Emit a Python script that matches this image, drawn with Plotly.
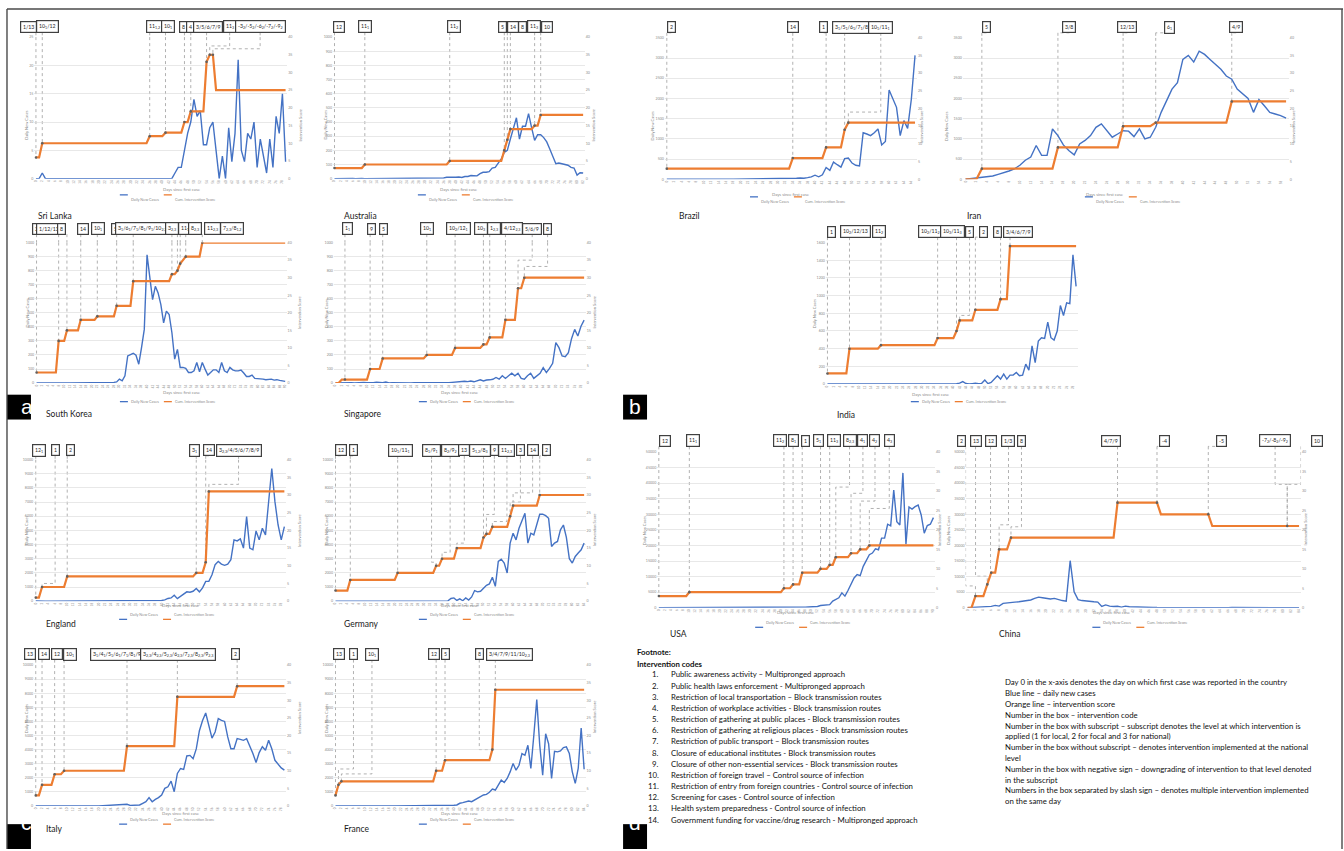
import plotly.graph_objects as go

W, H = 1344, 851
BLUE = '#4472C4'
ORANGE = '#ED7D31'
TXT = '#8c8c8c'
FONT = 'Lato'

# ------------------------------------------------------------------ data
sri_lanka_new = [0, 0, 1] + [0] * 41 + [1, 2, 2, 5, 8, 10, 14, 11, 12, 6, 6, 9, 10, 5, 0, 4, 0, 9, 3, 8,
                                        21, 5, 3, 8, 7, 10, 2, 7, 4, 1, 7, 2, 11, 8, 15, 3]
sri_lanka_score = [6] * 2 + [10] * 34 + [12] * 5 + [13] * 6 + [16] * 2 + [19] * 5 + [33] + [35] * 2 + [25] * 23

australia_new = [0, 1, 0, 2, 1, 0, 1, 0, 2, 1, 0, 0, 1, 0, 0, 0, 0, 0, 0, 0, 0, 0, 0, 0, 0, 0, 0, 0, 0, 0,
                 0, 2, 3, 5, 2, 4,
                 5, 10, 10, 5, 10, 12, 8, 15, 15, 22, 20, 20, 35, 45, 45, 50, 75, 80, 110, 140, 185, 200, 280,
                 360, 430, 280, 370, 370, 460, 360, 270, 310, 310, 290, 260, 210, 150, 105, 110, 105, 95, 95,
                 80, 75, 25, 42, 40]
australia_score = [3] * 10 + [4] * 28 + [5] * 18 + [8, 11] + [14] * 8 + [15] * 2 + [18] * 15

south_korea_new = [1, 0, 0, 0, 1, 1, 0, 1, 2, 3, 0, 1, 0, 0, 1, 0, 0, 0, 0, 0, 1, 0, 1, 2, 0, 1, 2, 2, 5, 8,
                   28, 16, 52, 193, 205, 212, 198, 134, 252, 382, 913, 760, 594, 689, 642, 559, 429, 512, 488,
                   358, 170, 240, 111, 111, 104, 75, 75, 87, 146, 80, 146, 99, 57, 75, 94, 94, 75, 146, 87, 75,
                   111, 94, 87, 87, 92, 71, 47, 47, 57, 33, 33, 28, 28, 24, 28, 28, 21, 24, 19, 16, 12]
south_korea_score = [3] * 8 + [12] * 3 + [15] * 5 + [18] * 6 + [19] * 7 + [22] * 6 + [29] * 14 + [31] * 2 + \
                    [32, 34, 35] + [36] * 6 + [40] * 31

singapore_new = [1, 2, 0, 1, 0, 3, 1, 3, 2, 4, 2, 0, 3, 6, 3, 2, 7, 1, 2, 1, 3, 2, 1, 2, 1, 3, 2, 2, 1, 3,
                 2, 3, 2, 1, 2, 3, 2, 5, 8, 10, 12, 13, 10, 14, 9, 17, 23, 15, 22, 23, 27,
                 40, 28, 52, 33, 52, 70, 52, 70, 33, 28, 52, 70, 33, 52, 70, 110, 75, 104, 141, 288, 252, 193,
                 188, 217, 316, 382, 335, 405, 448]
singapore_score = [0] * 2 + [1] * 9 + [4] * 4 + [7] * 14 + [8] * 9 + [10] * 9 + [11] * 2 + [13] * 5 + \
                  [18] * 4 + [27] * 2 + [30] * 20

brazil_new = [1, 0, 0, 0, 1, 0, 0, 0, 0, 1, 0, 2, 0, 0, 0, 0, 1, 2, 2, 3, 0, 5, 2, 3, 5, 3, 2, 3, 8, 5, 6, 10,
              5, 10, 20, 25, 30, 25, 40, 60, 100, 60, 110,
              290, 220, 425, 360, 300, 510, 525, 400, 345, 330, 1150, 1120, 1080, 1150, 1245, 850, 935, 2210,
              1980, 1780, 1080, 1450, 1260, 1980, 3065]
brazil_score = [3] * 34 + [6] * 9 + [9] * 5 + [14] + [16] * 19

iran_new = [0, 15, 30, 40, 50, 80, 120, 155, 205, 260, 345, 470, 550, 835, 590, 590, 1245, 1080, 850, 710,
            605, 875, 960, 1080, 1285, 1370, 1200, 1040, 1120, 1200, 1190, 1055, 1245, 1000, 1040, 1285, 1655,
            1940, 2230, 2390, 2965, 3065, 2900, 3170, 3090, 2965, 2845, 2720, 2555, 2475, 2230, 2105, 2000,
            1655, 1970, 1820, 1655, 1615, 1575, 1515]
iran_score = [0] * 3 + [3] * 14 + [9] * 12 + [15] * 6 + [16] * 14 + [22] * 11

india_new = [1, 0, 1, 1] + [0] * 36 + [2, 5, 10, 28, 6, 0, 5, 10, 5, 8, 45, 5] + \
            [19, 56, 94, 56, 112, 56, 101, 101, 131, 94, 101, 225, 157, 431, 243, 487, 524, 517, 700, 524,
             498, 600, 888, 775, 918, 910, 1461, 1105]
india_score = [3] * 7 + [10] * 10 + [11] * 18 + [13] * 6 + [15] + [18] * 5 + [21] * 8 + [24] * 3 + [39] * 22

england_new = [20, 0, 0, 0, 0, 0, 0, 0, 0, 10, 0, 0, 0, 0, 0, 0, 0, 0, 0, 0, 0, 0, 0, 0, 0, 10, 0, 0, 0, 0,
               10, 0, 0, 30, 0, 20, 40, 30, 40,
               50, 50, 90, 190, 230, 420, 180, 330, 470, 660, 630, 700, 890, 660, 940, 1400, 1400, 1870, 2580,
               2810, 2620, 2530, 2620, 2930, 4330, 4260, 4400, 3750, 5970, 3750, 3630, 4960, 4330, 5150, 4680,
               7210, 9370, 7030, 5380, 4330, 5270]
england_score = [1] * 2 + [4] * 8 + [7] * 41 + [8] * 3 + [11] + [31] * 25

germany_new = [1, 3, 0, 0, 1, 0, 1, 0, 2, 0] + [0] * 24 + [10, 20, 10, 20] + \
              [20, 190, 230, 50, 160, 30, 230, 80, 300, 750, 660, 700, 940, 1120, 1220, 1690, 1050, 2810, 2970,
               2690, 1990, 4100, 4800, 4330, 5150, 5740, 6210, 4100, 4800, 4680, 5500, 6140, 6140, 6040, 5850,
               3860, 4100, 4220, 5040, 5380, 4500, 3000, 2690, 3160, 3400, 3630, 4100]
germany_score = [3] * 5 + [6] * 16 + [8] * 13 + [10] * 2 + [12] * 5 + [15] * 9 + [18] + [19] * 2 + [21] * 6 + \
                [24] + [27] * 9 + [30] * 16

usa_new = [1, 0, 0, 0, 1, 0, 1, 0, 0, 1] + [0] * 30 + [2, 5, 10, 20] + \
          [20, 50, 100, 150, 200, 250, 300, 530, 400, 700, 800] + \
          [1060, 1000, 2130, 2660, 3190, 4790, 3720, 5530, 7450, 9570, 10640, 10320, 13300, 15430, 17020, 17550,
           18940, 18620, 22340, 22340, 26810, 26280, 37770, 27660, 26600, 43300, 20430, 32340, 31700, 32450,
           32980, 29790, 23940, 26390, 26810, 28940]
usa_score = [3] * 10 + [4] * 31 + [5] * 3 + [6] * 3 + [9] * 6 + [10] * 3 + [11] * 2 + [13] * 5 + [14] * 3 + \
            [15] * 3 + [16] * 22

china_new = [0, 100, 0, 300, 200, 320, 450, 750, 530, 1380, 1600, 1600, 1800, 1900, 2100, 2300, 2500, 3000,
             3400, 3200, 3000, 2800, 3000, 2600, 2300, 2100, 15100, 5100, 2600, 2300, 2100, 2000, 1900, 1800,
             400, 900, 500, 400, 450, 200, 500, 300, 300, 200, 150, 100, 300, 100, 50,
             40, 30, 20, 20, 30, 40, 20, 20, 30, 30, 40, 50, 40, 30, 40, 50, 40, 30, 50, 60, 50, 40, 30, 50, 40,
             60, 100, 80, 50, 40, 30, 100, 80, 60, 40, 30]
china_score = [0] * 2 + [3] * 3 + [6] + [9] * 2 + [15] * 3 + [18] * 27 + [27] * 11 + [24] * 13 + [21] * 23

italy_new = [3] + [0] * 20 + [15, 40, 60, 50, 60, 70, 90, 100, 120] + [40, 50, 60] + \
            [70, 190, 300, 590, 300, 470, 590, 780, 1250, 1360, 1765, 1010, 2310, 2660, 2590, 3550, 3590, 3360,
             4050, 5340, 6070, 6600, 5700, 4820, 5250, 6200, 6070, 6000, 4900, 4060, 4060, 4780, 4730, 4660, 4780,
             4310, 3720, 3080, 3790, 4200, 3950, 4660, 4060, 3240, 3000, 2700, 2540]
italy_score = [3] * 2 + [6] * 4 + [9] * 3 + [10] * 20 + [17] * 16 + [31] * 19 + [34] * 16

france_new = [3, 0, 0, 0, 1, 0, 0, 0, 5, 0, 0, 0, 0, 0, 0, 0, 1, 0, 0, 0, 0, 0, 0, 0, 0, 0, 0, 0, 0, 0,
              0, 2, 4, 20, 10, 20, 30, 40, 20, 40,
              50, 70, 190, 235, 300, 350, 300, 420, 540, 660, 780, 820, 970, 1200, 1130, 1480, 1840, 1670, 1950,
              2420, 3010, 2540, 2890, 3720, 3600, 4310, 2660, 5000, 7550, 4310, 2190, 5130, 4420, 1950, 3880,
              3840, 3910, 4140, 4190, 3720, 2420, 1600, 2660, 5530, 2610]
france_score = [3, 6] + [7] * 32 + [10] * 3 + [13] * 16 + [16] + [33] * 31

# intervention boxes: (label, marker day, elbow height in score units or None)
sri_lanka_codes = [('1/13', 0, None), ('10<sub>1</sub>/12', 2, None), ('11<sub>1,2</sub>', 36, None),
                   ('10<sub>1</sub>', 41, None), ('8', 47, None), ('4', 49, None), ('3/5/6/7/9', 54, None),
                   ('11<sub>3</sub>', 55, 37.5),
                   ('-3<sub>2</sub>/-5<sub>2</sub>/-6<sub>2</sub>/-7<sub>2</sub>/-9<sub>2</sub>', 56, 36.7)]
australia_codes = [('12', 0, None), ('11<sub>1</sub>', 10, None), ('11<sub>2</sub>', 38, None), ('5', 56, None),
                   ('14', 57, None), ('8', 58, None), ('11<sub>3</sub>', 66, None), ('10', 68, None)]
south_korea_codes = [('2', 0, None), ('1/12/13', 8, None), ('8', 11, None), ('14', 16, None),
                     ('10<sub>1</sub>', 22, None), ('5', 29, None),
                     ('3<sub>1</sub>/6<sub>1</sub>/7<sub>1</sub>/8<sub>1</sub>/9<sub>1</sub>/10<sub>2,3</sub>', 35, None),
                     ('3<sub>2,3</sub>', 49, None), ('11<sub>1</sub>', 51, None), ('8<sub>2,3</sub>', 52, None),
                     ('11<sub>2,3</sub>', 54, None), ('7<sub>2,3</sub>/8<sub>1,2</sub>', 60, None)]
singapore_codes = [('1<sub>1</sub>', 3, None), ('9', 11, None), ('5', 15, None), ('10<sub>1</sub>', 29, None),
                   ('10<sub>2</sub>/12<sub>1</sub>', 38, None), ('10<sub>3</sub>', 47, None),
                   ('1<sub>2,3</sub>', 49, None), ('4/12<sub>2,3</sub>', 54, None), ('5/6/9', 58, 35),
                   ('8', 60, 33.2)]
brazil_codes = [('2', 0, None), ('14', 34, None), ('1', 43, None),
                ('3<sub>1</sub>/5<sub>1</sub>/6<sub>1</sub>/7<sub>1</sub>/8<sub>1</sub>', 48, None),
                ('10<sub>1</sub>/11<sub>1</sub>', 49, 19)]
iran_codes = [('5', 3, None), ('3/8', 17, None), ('12/13', 29, None), ('6<sub>1</sub>', 35, None), ('4/9', 49, None)]
india_codes = [('1', 0, None), ('10<sub>2</sub>/12/13', 7, None), ('11<sub>2</sub>', 17, None),
               ('10<sub>2</sub>/11<sub>2</sub>', 35, None), ('10<sub>3</sub>/11<sub>3</sub>', 41, None),
               ('5', 42, 19.4), ('2', 47, None), ('8', 55, None), ('3/4/6/7/9', 58, None)]
england_codes = [('12<sub>1</sub>', 0, None), ('1', 2, 5), ('2', 10, None), ('3<sub>1</sub>', 51, None),
                 ('14', 54, None), ('3<sub>2,3</sub>/4/5/6/7/8/9', 55, 33)]
germany_codes = [('12', 0, None), ('1', 5, None), ('10<sub>1</sub>/11<sub>1</sub>', 21, None),
                 ('8<sub>1</sub>/9<sub>1</sub>', 34, 11), ('8<sub>2</sub>/9<sub>2</sub>', 36, 13.8), ('13', 41, 16.4),
                 ('5<sub>1,2</sub>/8<sub>3</sub>', 50, None), ('9', 51, 24.5), ('11<sub>2,3</sub>', 53, 22.5),
                 ('3', 59, 28), ('14', 60, 30.6), ('2', 69, None)]
usa_codes = [('12', 0, None), ('11<sub>1</sub>', 10, None), ('11<sub>2</sub>', 41, None), ('8<sub>1</sub>', 44, None),
             ('1', 47, None), ('5<sub>1</sub>', 53, None), ('11<sub>3</sub>', 56, None),
             ('8<sub>2,3</sub>', 58, 31), ('4<sub>1</sub>', 63, 29.4), ('4<sub>2</sub>', 66, 27.4),
             ('4<sub>3</sub>', 69, 25.5)]
china_codes = [('2', 2, 5.6), ('13', 5, 8.1), ('12', 6, 9.4), ('1/3', 8, 21.3), ('8', 11, 20.8),
               ('4/7/9', 38, None), ('-4', 48, None), ('-5', 61, None),
               ('-7<sub>2</sub>/-8<sub>2</sub>/-9<sub>2</sub>', 81, 31.7), ('10', 81, 31.7)]
italy_codes = [('13', 0, None), ('14', 2, None), ('12', 6, None), ('10<sub>1</sub>', 9, None),
               ('3<sub>1</sub>/4<sub>1</sub>/5<sub>1</sub>/6<sub>1</sub>/7<sub>1</sub>/8<sub>1</sub>/9<sub>1</sub>', 29, None),
               ('3<sub>2,3</sub>/4<sub>2,3</sub>/5<sub>2,3</sub>/6<sub>2,3</sub>/7<sub>2,3</sub>/8<sub>2,3</sub>/9<sub>2,3</sub>', 45, None),
               ('2', 64, None)]
france_codes = [('13', 0, None), ('1', 1, 10.5), ('10<sub>1</sub>', 2, 9.1), ('12', 34, None), ('5', 37, None),
                ('8', 53, 16), ('3/4/7/9/11/10<sub>2,3</sub>', 54, None)]

footnote_codes = [
    'Public awareness activity \u2013 Multipronged approach',
    'Public health laws enforcement - Multipronged approach',
    'Restriction of local transportation \u2013 Block transmission routes',
    'Restriction of workplace activities - Block transmission routes',
    'Restriction of gathering at public places - Block transmission routes',
    'Restriction of gathering at religious places - Block transmission routes',
    'Restriction of public transport \u2013 Block transmission routes',
    'Closure of educational institutes - Block transmission routes',
    'Closure of other non-essential services - Block transmission routes',
    'Restriction of foreign travel \u2013 Control source of infection',
    'Restriction of entry from foreign countries - Control source of infection',
    'Screening for cases - Control source of infection',
    'Health system preparedness - Control source of infection',
    'Government funding for vaccine/drug research - Multipronged approach',
]
footnote_notes = [
    'Day 0 in the x-axis denotes the day on which first case was reported in the country',
    'Blue line \u2013 daily new cases',
    'Orange line \u2013 intervention score',
    'Number in the box \u2013 intervention code',
    'Number in the box with subscript \u2013 subscript denotes the level at which intervention is',
    'applied (1 for local, 2 for focal and 3 for national)',
    'Number in the box without subscript \u2013 denotes intervention implemented at the national',
    'level',
    'Number in the box with negative sign \u2013 downgrading of intervention to that level denoted',
    'in the subscript',
    'Numbers in the box separated by slash sign \u2013 denotes multiple intervention implemented',
    'on the same day',
]

# ------------------------------------------------------------------ layout tables (pixels)
# name, new, score, codes, box x centres(px), x_first, x_last, y_top, y_bot, ymax, ydtick,
# box centre y, label (x,y), x-title y, legend y, right labels
CHARTS = [
    ('Sri Lanka', sri_lanka_new, sri_lanka_score, sri_lanka_codes,
     [27.5, 47, 154, 167, 182.5, 190, 207.5, 229, 259.5],
     35, 285, 34.3, 176.7, 25, 5, 24, (35, 207), 183, 193, True),
    ('Australia', australia_new, australia_score, australia_codes,
     [339, 364.3, 453.3, 502.3, 512.7, 522.3, 534, 547],
     334, 583, 34.3, 176.7, 1000, 100, 24, (342, 207), 183, 193, True),
    ('South Korea', south_korea_new, south_korea_score, south_korea_codes,
     [36, 48.2, 60.5, 82.2, 97.6, 114.6, 141.5, 171.1, 184.2, 194, 212.3, 231.2],
     35.6, 284.6, 241, 382.3, 1000, 100, 227, (43, 413), 392, 401, True),
    ('Singapore', singapore_new, singapore_score, singapore_codes,
     [346.6, 370.8, 383.4, 426.9, 457.7, 480.6, 494.1, 511.5, 532, 547.4],
     335, 584, 241, 382.3, 1000, 100, 227, (342, 413), 392, 401, True),
    ('Brazil', brazil_new, brazil_score, brazil_codes,
     [671.3, 793.1, 823.9, 852.5, 881.1],
     666.8, 915.4, 35, 177.3, 3500, 500, 24.5, (677, 207), 188, 195, True),
    ('Iran', iran_new, iran_score, iran_codes,
     [987, 1070, 1128, 1170, 1237],
     966, 1287, 35, 177.3, 3500, 500, 24.5, (965, 207), 188, 195, True),
    ('India', india_new, india_score, india_codes,
     [831.3, 855.7, 879.7, 931.3, 953, 970, 984, 998, 1018.3],
     827.7, 1076.7, 241, 383.3, 1600, 200, 230, (835, 414), 394, 401, False),
    ('England', england_new, england_score, england_codes,
     [37.9, 54.2, 69.2, 194.1, 208.3, 237.9],
     34.8, 283.8, 459.3, 601.7, 10000, 1000, 450, (43, 632), 611, 620, True),
    ('Germany', germany_new, germany_score, germany_codes,
     [340.3, 352.6, 400, 431.2, 449.8, 464, 480.2, 494.1, 506.7, 520.2, 532.4, 546.6],
     335, 584, 459.3, 601.7, 10000, 1000, 450, (342, 632), 611, 620, True),
    ('USA', usa_new, usa_score, usa_codes,
     [664.6, 692.7, 780.6, 793.6, 805.6, 818.6, 834.2, 849.8, 863.2, 875.3, 889.6],
     658.8, 933.8, 451.7, 608.3, 50000, 5000, 440.5, (668, 642), 618, 628, True),
    ('China', china_new, china_score, china_codes,
     [962, 976, 991, 1009, 1022, 1112, 1165, 1222, 1276, 1318],
     968, 1300, 451.7, 608.3, 50000, 5000, 440.5, (997, 642), 618, 628, True),
    ('Italy', italy_new, italy_score, italy_codes,
     [29.2, 42.7, 55.7, 69.6, 117, 177.1, 235.2],
     34.8, 283.8, 666, 807.7, 10000, 1000, 655, (43, 838), 820, 826, True),
    ('France', france_new, france_score, france_codes,
     [338.3, 353, 371.5, 433.6, 445.5, 479, 509.1],
     335, 584, 666, 807.7, 10000, 1000, 655, (342, 838), 820, 826, True),
]

BOX_HALF = 5.5


def px(x):
    return x / W


def py(y):
    return 1 - y / H


fig = go.Figure()
layout = {}
shapes = []
ann = []
dot = dict(color='#8f8f8f', width=0.7, dash='dot')

for i, (name, new, score, codes, boxpx, x0, x1, yt, yb, ymax, ydt, bcy, lab, xty, lgy, rlab) in \
        enumerate(CHARTS, start=1):
    n = len(new)
    score = (list(score) + [score[-1]] * n)[:n]
    days = list(range(n))
    dx = (x1 - x0) / (n - 1)
    lpx, rpx = x0 - dx / 2, x1 + dx / 2
    xa = 'x' if i == 1 else 'x%d' % i
    li, ri = 2 * i - 1, 2 * i
    yl = 'y' if li == 1 else 'y%d' % li
    yr = 'y%d' % ri
    layout['xaxis' if i == 1 else 'xaxis%d' % i] = dict(
        domain=[px(lpx), px(rpx)], range=[-0.5, n - 0.5], anchor=yl, tickmode='linear', tick0=0, dtick=2,
        tickangle=-90, tickfont=dict(size=3, color=TXT), showgrid=False, zeroline=False, showline=False, ticks='')
    layout['yaxis' if li == 1 else 'yaxis%d' % li] = dict(
        domain=[py(yb), py(yt)], range=[0, ymax], anchor=xa, tickmode='linear', tick0=0, dtick=ydt,
        tickformat='d', showgrid=True, gridcolor='#d9d9d9', gridwidth=0.6, zeroline=False, showline=False,
        ticks='', tickfont=dict(size=3.6, color=TXT))
    layout['yaxis%d' % ri] = dict(
        overlaying=yl, side='right', anchor=xa, range=[0, 40], tickmode='linear', tick0=0, dtick=5,
        showgrid=False, zeroline=False, showline=False, ticks='', showticklabels=rlab,
        tickfont=dict(size=3.6, color=TXT))

    fig.add_trace(go.Scatter(x=days, y=new, xaxis=xa, yaxis=yl, mode='lines', name='Daily New Cases',
                             line=dict(color=BLUE, width=1.4), showlegend=False, hoverinfo='skip'))
    fig.add_trace(go.Scatter(x=days, y=score, xaxis=xa, yaxis=yr, mode='lines', name='Cum. Intervention Score',
                             line=dict(color=ORANGE, width=2.2), showlegend=False, hoverinfo='skip'))
    mdays = sorted(set(c[1] for c in codes))
    fig.add_trace(go.Scatter(x=mdays, y=[score[d] for d in mdays], xaxis=xa, yaxis=yr, mode='markers',
                             marker=dict(color='#606060', size=2.6), showlegend=False, hoverinfo='skip'))

    # boxes and leader lines
    bb = (yb - (bcy + BOX_HALF)) / (yb - yt)
    for (label, md, elbow), bpx in zip(codes, boxpx):
        bx = (bpx - x0) / dx
        bxc = min(max(bx, -0.5), n - 0.5)
        ann.append(dict(text=label, xref=xa, x=bxc, xshift=(bx - bxc) * dx, yref='paper', y=py(bcy),
                        showarrow=False, xanchor='center', yanchor='middle',
                        font=dict(size=5.2, color='#262626'), bordercolor='#404040', borderwidth=1.2,
                        borderpad=1.8, bgcolor='white'))
        ms = score[md]
        if elbow is None:
            shapes.append(dict(type='line', xref=xa, yref=yl + ' domain', x0=bxc, x1=md, y0=bb, y1=bb,
                               line=dot, layer='below'))
            shapes.append(dict(type='line', xref=xa, yref=yl + ' domain', x0=md, x1=md, y0=bb, y1=1,
                               line=dot, layer='below'))
            shapes.append(dict(type='line', xref=xa, yref=yr, x0=md, x1=md, y0=40, y1=ms,
                               line=dot, layer='below'))
        else:
            shapes.append(dict(type='line', xref=xa, yref=yl + ' domain', x0=bxc, x1=bxc, y0=bb, y1=1,
                               line=dot, layer='below'))
            shapes.append(dict(type='path', xref=xa, yref=yr,
                               path='M%s,40 L%s,%s L%s,%s L%s,%s' % (bxc, bxc, elbow, md, elbow, md, ms),
                               line=dot, layer='below'))

    # axis titles, legend, country label
    cx = (x0 + x1) / 2
    ymid = (yt + yb) / 2
    ann.append(dict(text='Daily New Cases', xref='paper', yref='paper', x=px(lpx - 12), y=py(ymid),
                    textangle=-90, showarrow=False, font=dict(size=4, color=TXT)))
    if rlab:
        ann.append(dict(text='Intervention Score', xref='paper', yref='paper', x=px(rpx + 9), y=py(ymid),
                        textangle=-90, showarrow=False, font=dict(size=4, color=TXT)))
    ann.append(dict(text='Days since first case', xref='paper', yref='paper', x=px(cx), y=py(xty),
                    showarrow=False, font=dict(size=4.2, color=TXT)))
    shapes.append(dict(type='line', xref='paper', yref='paper', x0=px(cx - 41), x1=px(cx - 33),
                       y0=py(lgy), y1=py(lgy), line=dict(color=BLUE, width=1.3)))
    ann.append(dict(text='Daily New Cases', xref='paper', yref='paper', x=px(cx - 32), y=py(lgy),
                    xanchor='left', showarrow=False, font=dict(size=3.8, color=TXT)))
    shapes.append(dict(type='line', xref='paper', yref='paper', x0=px(cx + 3), x1=px(cx + 11),
                       y0=py(lgy), y1=py(lgy), line=dict(color=ORANGE, width=1.3)))
    ann.append(dict(text='Cum. Intervention Score', xref='paper', yref='paper', x=px(cx + 12), y=py(lgy),
                    xanchor='left', showarrow=False, font=dict(size=3.8, color=TXT)))
    ann.append(dict(text=name, xref='paper', yref='paper', x=px(lab[0]), y=py(lab[1]), xanchor='left',
                    showarrow=False, font=dict(size=8.5, color='#1a1a1a')))

# ------------------------------------------------------------------ footnote
ann.append(dict(text='<b>Footnote:</b>', xref='paper', yref='paper', x=px(635), y=py(660), xanchor='left',
                showarrow=False, font=dict(size=7.8, color='#111')))
ann.append(dict(text='<b>Intervention codes</b>', xref='paper', yref='paper', x=px(635), y=py(671.5),
                xanchor='left', showarrow=False, font=dict(size=7.8, color='#111')))
for k, t in enumerate(footnote_codes):
    yy = 682.5 + 11.23 * k
    ann.append(dict(text='%d.' % (k + 1), xref='paper', yref='paper', x=px(661), y=py(yy), xanchor='right',
                    showarrow=False, font=dict(size=7.8, color='#111')))
    ann.append(dict(text=t, xref='paper', yref='paper', x=px(669), y=py(yy), xanchor='left',
                    showarrow=False, font=dict(size=7.8, color='#111')))
for k, t in enumerate(footnote_notes):
    yy = 690.5 + 10.85 * k
    ann.append(dict(text=t, xref='paper', yref='paper', x=px(1003), y=py(yy), xanchor='left',
                    showarrow=False, font=dict(size=7.8, color='#111')))

# ------------------------------------------------------------------ panel letters and frame
for letter, lx, ly in [('a', 6, 394), ('b', 623, 394), ('c', 6, 826), ('d', 623, 826)]:
    shapes.append(dict(type='rect', xref='paper', yref='paper', x0=px(lx), x1=px(lx + 24), y0=py(ly + 25),
                       y1=py(ly), fillcolor='black', line=dict(width=0)))
    ann.append(dict(text=letter, xref='paper', yref='paper', x=px(lx + 12), y=py(ly + 12), showarrow=False,
                    font=dict(size=21, color='white', family='Liberation Sans')))
frame = dict(color='#4a4a4a', width=1.4)
shapes.append(dict(type='line', xref='paper', yref='paper', x0=px(6), x1=1, y0=py(6), y1=py(6), line=frame))
shapes.append(dict(type='line', xref='paper', yref='paper', x0=px(6), x1=px(6), y0=py(6), y1=0, line=frame))
shapes.append(dict(type='line', xref='paper', yref='paper', x0=px(1343), x1=px(1343), y0=py(6), y1=0,
                   line=frame))

fig.update_layout(**layout)
fig.update_layout(width=W, height=H, margin=dict(l=0, r=0, t=0, b=0), paper_bgcolor='white',
                  plot_bgcolor='white', showlegend=False, font=dict(family=FONT, color=TXT),
                  shapes=shapes, annotations=ann)
fig.write_html('out.html', config={'displayModeBar': False, 'staticPlot': True},
               post_script="document.body.style.margin='0';document.body.style.padding='0';"
                           "document.body.style.overflow='hidden';")
